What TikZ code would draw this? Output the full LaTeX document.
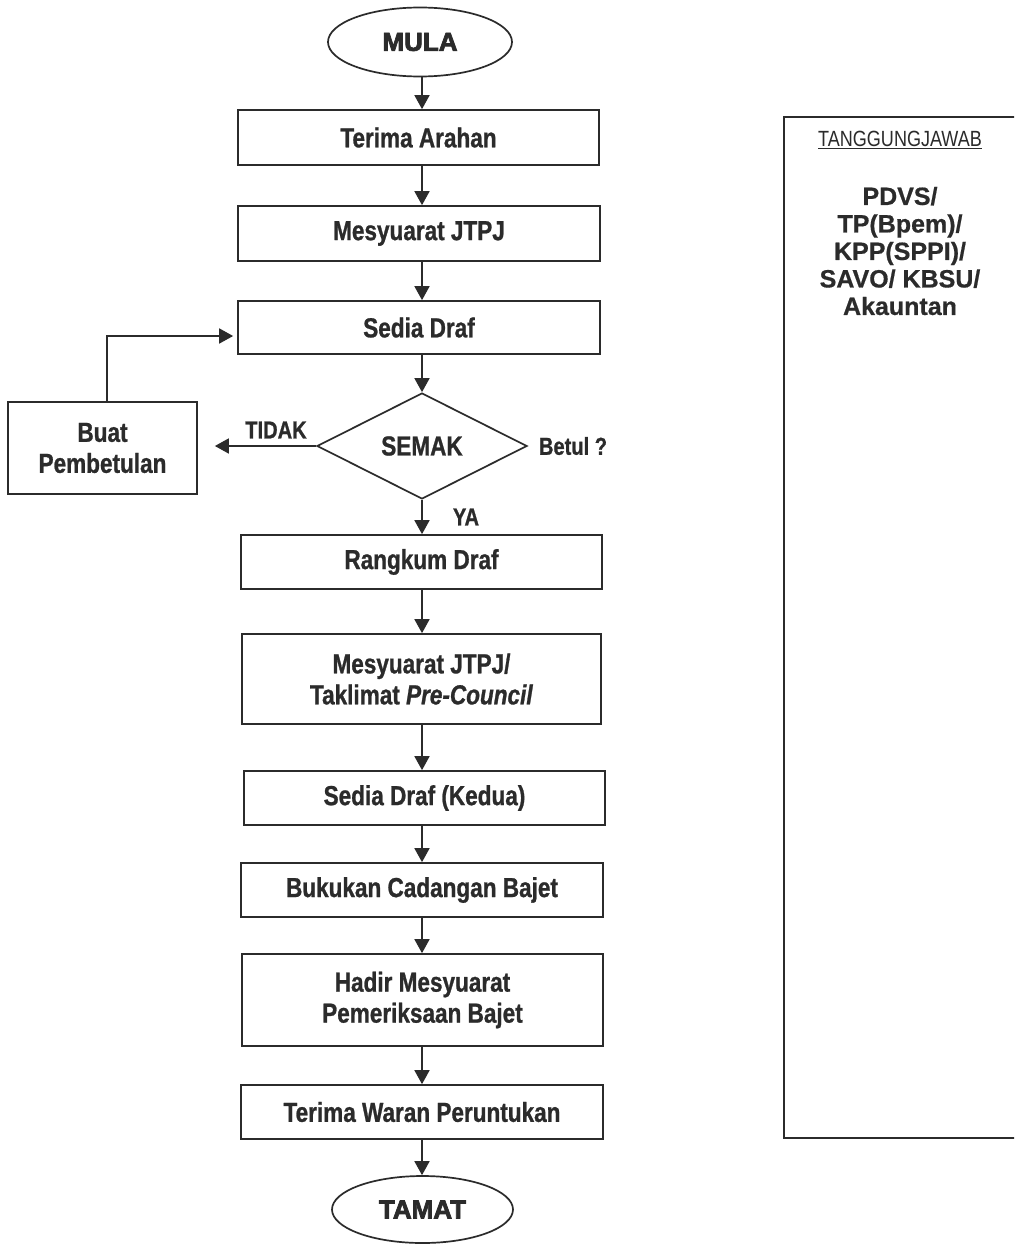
\documentclass[tikz,border=0pt]{standalone}
\usepackage{fontspec}
\setmainfont{Liberation Sans}[BoldFeatures={FakeBold=0.6}]
\newfontfamily\narrowfont[FakeStretch=0.82, BoldFeatures={FakeBold=0.9}, BoldItalicFeatures={FakeBold=0.9}]{Liberation Sans}
\newfontfamily\heavyfont[BoldFeatures={FakeBold=3}]{Liberation Sans}
\usetikzlibrary{shapes.geometric,arrows.meta}
\definecolor{ink}{HTML}{2B2B2B}
\begin{document}
\begin{tikzpicture}[x=1pt,y=-1pt,
 every node/.style={text=ink},
 procbox/.style={draw=ink, line width=1.7pt, rectangle, inner sep=0pt, align=center,
   font=\narrowfont\bfseries\fontsize{27.5}{31}\selectfont},
 termbox/.style={draw=ink, line width=1.7pt, ellipse, inner sep=0pt,
   font=\heavyfont\bfseries\fontsize{26}{30}\selectfont},
 decbox/.style={draw=ink, line width=1.7pt, diamond, inner sep=0pt,
   minimum width=210pt, minimum height=106pt,
   font=\narrowfont\bfseries\fontsize{27.5}{31}\selectfont},
 lbl/.style={font=\narrowfont\bfseries\fontsize{24.5}{28}\selectfont, inner sep=0pt},
 arr/.style={draw=ink, line width=1.7pt, -{Triangle[length=14pt,width=15pt]}},
]
\useasboundingbox (0,0) rectangle (1014,1244);
\clip (0,0) rectangle (1014,1244);
\fill[white] (0,0) rectangle (1014,1244);

\coordinate (X) at (422,0);

\node[termbox, minimum width=184pt, minimum height=69pt] (mula) at (420,42) {MULA};
\node[procbox, minimum width=361pt, minimum height=55pt] (terima) at (418.5,137.5) {Terima Arahan};
\node[procbox, minimum width=362pt, minimum height=55pt] (mesy) at (419,233.5) {Mesyuarat JTPJ};
\node[procbox, minimum width=362pt, minimum height=53pt] (sedia) at (419,327.5) {Sedia Draf};
\node[decbox] (semak) at (422,446) {SEMAK};
\node[procbox, minimum width=189pt, minimum height=92pt] (buat) at (102.5,448) {Buat\\Pembetulan};
\node[procbox, minimum width=361pt, minimum height=54pt] (rangkum) at (421.5,562) {Rangkum Draf};
\node[procbox, minimum width=359pt, minimum height=90pt] (taklimat) at (421.5,679) {Mesyuarat JTPJ/\\Taklimat \textit{Pre-Council}};
\node[procbox, minimum width=361pt, minimum height=54pt] (kedua) at (424.5,798) {Sedia Draf (Kedua)};
\node[procbox, minimum width=362pt, minimum height=54pt] (bukukan) at (422,890) {Bukukan Cadangan Bajet};
\node[procbox, minimum width=361pt, minimum height=92pt] (hadir) at (422.5,1000) {Hadir Mesyuarat\\Pemeriksaan Bajet};
\node[procbox, minimum width=362pt, minimum height=54pt] (waran) at (422,1112) {Terima Waran Peruntukan};
\node[termbox, minimum width=181pt, minimum height=67pt] (tamat) at (422.5,1209.5) {TAMAT};

\node[lbl] (tidak) at (276,430) {TIDAK};
\node[lbl] (betul) at (573,446) {Betul ?};
\node[lbl] (ya) at (466,517) {YA};

\draw[arr] (mula.south -| X) -- (terima.north -| X);
\draw[arr] (terima.south -| X) -- (mesy.north -| X);
\draw[arr] (mesy.south -| X) -- (sedia.north -| X);
\draw[arr] (sedia.south -| X) -- (semak.north);
\draw[arr] (semak.south) -- (rangkum.north -| semak.south);
\draw[arr] (rangkum.south -| X) -- (taklimat.north -| X);
\draw[arr] (taklimat.south -| X) -- (kedua.north -| X);
\draw[arr] (kedua.south -| X) -- (bukukan.north -| X);
\draw[arr] (bukukan.south -| X) -- (hadir.north -| X);
\draw[arr] (hadir.south -| X) -- (waran.north -| X);
\draw[arr] (waran.south -| X) -- (tamat.north -| X);
\draw[arr, shorten >=17pt] (semak.west) -- (buat.east |- semak.west);
\draw[arr, shorten >=4pt] ([xshift=4.5pt]buat.north) |- ([yshift=-8.5pt]sedia.west);

\node[draw=ink, line width=1.7pt, rectangle, anchor=north west, inner sep=0pt,
  minimum width=260pt, minimum height=1021pt] (resp) at (783,116) {};
\node[font=\narrowfont\fontsize{22}{26}\selectfont, inner sep=0pt] (tj) at (900,140) {\underline{TANGGUNGJAWAB}};
\node[font=\bfseries\fontsize{25}{27.5}\selectfont, align=center, inner sep=0pt] (who) at (900,251)
  {PDVS/\\TP(Bpem)/\\KPP(SPPI)/\\SAVO/ KBSU/\\Akauntan};
\end{tikzpicture}
\end{document}
